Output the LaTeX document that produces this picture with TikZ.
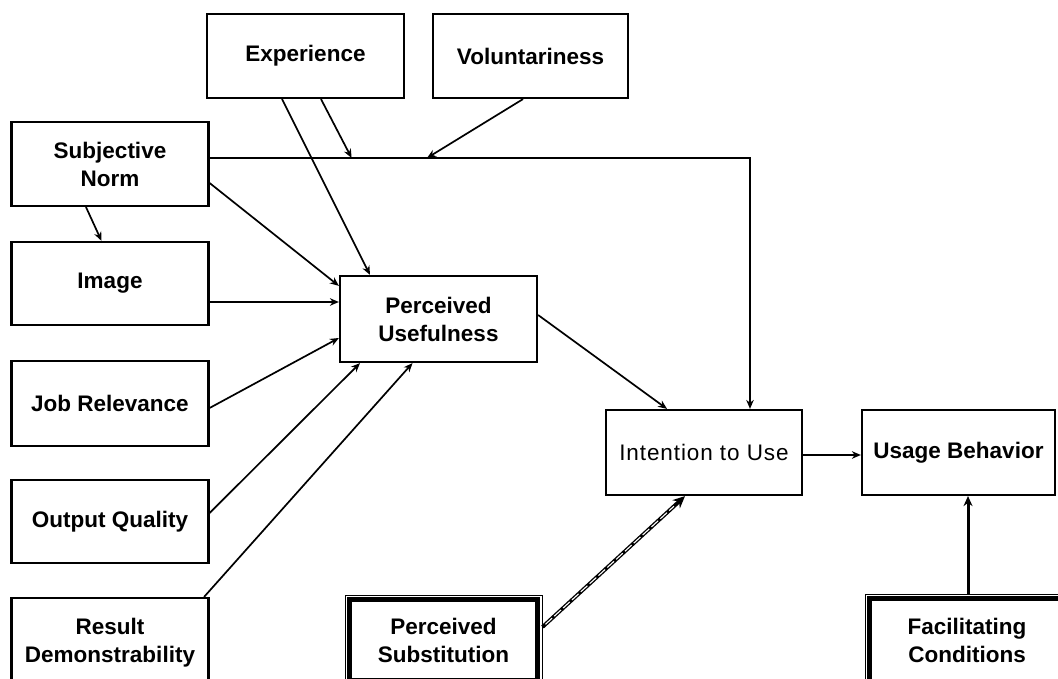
\documentclass[tikz,border=0pt]{standalone}
\usepackage{fontspec}
\setmainfont{Liberation Sans}
\usetikzlibrary{arrows.meta,calc}
\tikzset{
  box/.style={draw, line width=2.2pt, align=center, inner sep=0pt,
    font=\fontsize{22.5}{28}\selectfont\bfseries},
  regbox/.style={box, font=\fontsize{22.5}{28}\selectfont\addfontfeature{LetterSpace=4}},
  dblbox/.style={draw, line width=1pt, align=center, inner sep=0pt,
    font=\fontsize{22.5}{28}\selectfont\bfseries},
  arr/.style={line width=1.7pt, -{Stealth[length=9pt,width=7.5pt]}},
  thickarr/.style={line width=3pt, -{Stealth[length=10pt,width=9pt]}},
}
\begin{document}
\begin{tikzpicture}[x=1pt,y=-1pt]
\useasboundingbox (0,0) rectangle (1058,679);
\clip (0,0) rectangle (1058,679);
\fill[white] (0,0) rectangle (1058,679);

\node[box, minimum width=197pt, minimum height=84pt] (exp) at (305.5,56) {Experience};
\node[box, minimum width=195pt, minimum height=84pt] (vol) at (530.5,56) {Voluntariness};
\node[box, minimum width=197pt, minimum height=84pt] (sn) at (110,164) {Subjective\\Norm};
\node[box, minimum width=197pt, minimum height=83pt] (img) at (110,283.5) {Image};
\node[box, minimum width=197pt, minimum height=86pt] (pu) at (438.5,319) {Perceived\\Usefulness};
\node[box, minimum width=197pt, minimum height=85pt] (jr) at (110,403.5) {Job Relevance};
\node[box, minimum width=197pt, minimum height=83pt] (oq) at (110,521.5) {Output Quality};
\node[box, minimum width=197pt, minimum height=90pt] (rd) at (110,643) {Result\\Demonstrability};
\node[dblbox, minimum width=197pt, minimum height=90pt] (ps) at (443.5,640) {Perceived\\Substitution};
\node[regbox, minimum width=196pt, minimum height=85pt] (itu) at (704,452.5) {Intention to Use};
\node[box, minimum width=193pt, minimum height=85pt] (ub) at (958.5,452.5) {Usage Behavior};
\node[dblbox, minimum width=204pt, minimum height=92pt] (fc) at (967,640) {Facilitating\\Conditions};

% inner thick borders of the double boxes
\draw[line width=4.5pt] ([shift={(5pt,-5pt)}]ps.north west) rectangle ([shift={(-5pt,5pt)}]ps.south east);
\draw[line width=4.5pt] ([shift={(5pt,-5pt)}]fc.north west) rectangle ([shift={(-5pt,5pt)}]fc.south east);

% junction points on the Subjective Norm -> Intention line
\coordinate (m1) at (351.6,158);
\coordinate (m2) at (427,158);

\draw[arr] ([yshift=6pt]sn.east) -| ([xshift=46pt]itu.north);
\draw[arr] ([xshift=15.5pt]exp.south) -- (m1);
\draw[arr] ([xshift=-7.5pt]vol.south) -- (m2);
\draw[arr] ([xshift=-23.5pt]exp.south) -- ([xshift=-68.5pt]pu.north);
\draw[arr] ([yshift=-19pt]sn.east) -- ([yshift=-11pt]pu.north west);
\draw[arr] ([xshift=-24pt]sn.south) -- ([xshift=-8.5pt]img.north);
\draw[arr] ([yshift=-18.5pt]img.east) coordinate (i1) -- (i1 -| pu.west);
\draw[arr] ([yshift=-4.5pt]jr.east) -- ([yshift=-19pt]pu.west);
\draw[arr] ([yshift=8.5pt]oq.east) -- ([xshift=-78.5pt]pu.south);
\draw[arr] ([xshift=-5.5pt]rd.north east) -- ([xshift=-26pt]pu.south);
\draw[arr] ([yshift=4pt]pu.east) -- ([xshift=-37pt]itu.north);
\draw[arr] ([yshift=-2.5pt]itu.east) coordinate (i2) -- (i2 -| ub.west);
\draw[thickarr] ([xshift=1pt]fc.north) coordinate (f1) -- (f1 |- ub.south);

% Perceived Substitution -> Intention (double dashed look)
\draw[line width=3.8pt, -{Stealth[length=12pt,width=11pt]}] ([yshift=13pt]ps.east) coordinate (p1) -- ([xshift=-19pt]itu.south) coordinate (p2);
\draw[white, line width=1.1pt, dash pattern=on 9pt off 3pt, shorten >=15pt, shorten <=4pt] (p1) -- (p2);
\end{tikzpicture}
\end{document}
